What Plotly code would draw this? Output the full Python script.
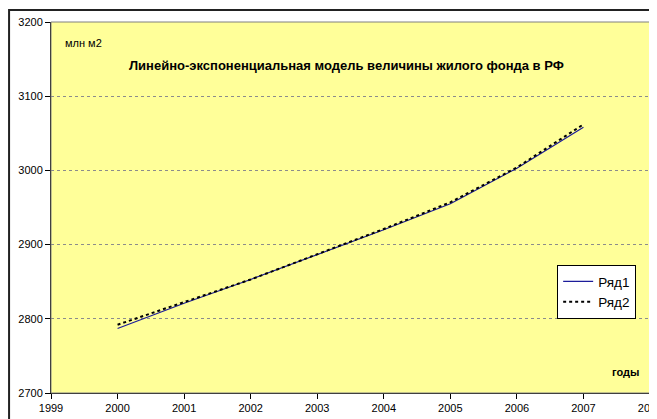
import plotly.graph_objects as go

years = [2000, 2001, 2002, 2003, 2004, 2005, 2006, 2007]
series1 = [2787, 2821, 2853, 2886, 2920, 2955, 3003, 3058]
series2 = [2792, 2822, 2853, 2887, 2921, 2957, 3004, 3062]
series_names = ["Ряд1", "Ряд2"]
title_text = "Линейно-экспоненциальная модель величины жилого фонда в РФ"
y_unit = "млн м2"
x_unit = "годы"

FONT = "Liberation Sans, Arial, sans-serif"

fig = go.Figure()
fig.add_trace(go.Scatter(x=years, y=series1, mode="lines", name=series_names[0],
                         line=dict(color="#1c1c9a", width=1.2)))
fig.add_trace(go.Scatter(x=years, y=series2, mode="lines", name=series_names[1],
                         line=dict(color="#000000", width=2, dash="dot")))

# the page body adds an 8px offset, so the figure is drawn 8px smaller
fig.update_layout(
    width=649, height=411,
    margin=dict(l=43, r=7, t=14, b=26, autoexpand=False),
    paper_bgcolor="white",
    plot_bgcolor="#FFFF99",
    font=dict(family=FONT, size=11, color="black"),
    showlegend=True,
    legend=dict(x=0.845, y=0.345, xanchor="left", yanchor="top",
                bgcolor="white", bordercolor="black", borderwidth=1,
                font=dict(size=13.5, family=FONT), tracegroupgap=0,
                entrywidth=82, entrywidthmode="pixels"),
)
fig.update_xaxes(range=[1999, 2008], dtick=1, tick0=1999, showgrid=False,
                 ticks="outside", ticklen=5, tickcolor="black",
                 showline=True, linecolor="black", linewidth=1,
                 tickfont=dict(size=11, family=FONT), zeroline=False,
                 automargin=False, ticklabeloverflow="allow")
fig.update_yaxes(range=[2700, 3200], dtick=100, showgrid=True,
                 gridcolor="#8c8c8c", gridwidth=1, griddash="dot",
                 ticks="outside", ticklen=5, tickcolor="black",
                 showline=True, linecolor="black", linewidth=1,
                 tickfont=dict(size=11, family=FONT), zeroline=False,
                 automargin=False)

# plot area border (gray top/right)
fig.add_shape(type="rect", xref="paper", yref="paper", x0=0, y0=0, x1=1, y1=1,
              line=dict(color="#808080", width=1), layer="above")
# outer chart frame
fig.add_shape(type="rect", xref="paper", yref="paper",
              x0=-0.070, y0=-0.2, x1=1.05, y1=1.0323,
              line=dict(color="#222222", width=2), layer="above")

fig.add_annotation(text=y_unit, xref="paper", yref="paper", x=0.02, y=0.943,
                   xanchor="left", yanchor="middle", showarrow=False,
                   font=dict(size=11, family=FONT))
fig.add_annotation(text="<b>" + title_text + "</b>", xref="paper", yref="paper",
                   x=0.494, y=0.884, xanchor="center", yanchor="middle",
                   showarrow=False, font=dict(size=13, family=FONT))
fig.add_annotation(text="<b>" + x_unit + "</b>", xref="paper", yref="paper",
                   x=0.985, y=0.057, xanchor="right", yanchor="middle",
                   showarrow=False, font=dict(size=11, family=FONT))

fig.write_html("out.html")
